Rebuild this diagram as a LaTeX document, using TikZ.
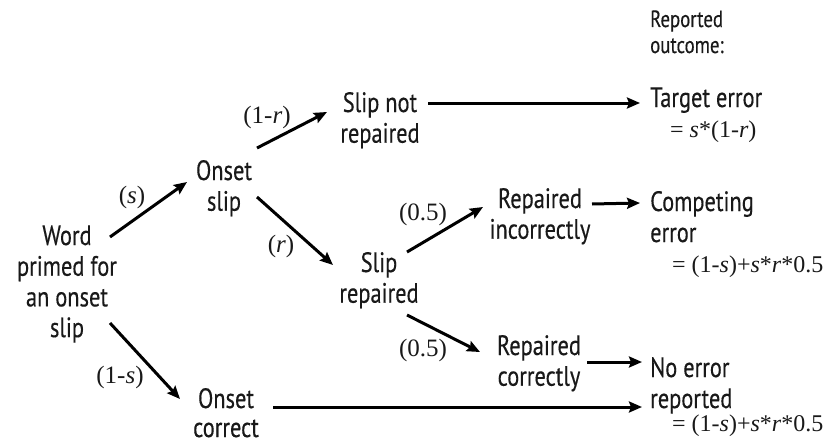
\documentclass[tikz,border=0pt]{standalone}
\usepackage{fontspec}
\setmainfont{PT Sans}[FakeStretch=0.8,FakeBold=0.35]
\newfontfamily\serifface{Liberation Serif}
\usetikzlibrary{arrows.meta}
\newcommand\stacklines[2][c]{\begin{tabular}[t]{@{}#1@{}}#2\end{tabular}}
\newcommand\vv[1]{\textit{#1}}
\begin{document}
\begin{tikzpicture}[x=1pt,y=-1pt,
  inkcol/.style={text=black!90},
  state/.style={inner sep=0pt,anchor=base,inkcol,font=\fontsize{28}{30.7}\selectfont},
  outcome/.style={inner sep=0pt,anchor=base west,inkcol,font=\fontsize{28}{31}\selectfont},
  header/.style={inner sep=0pt,anchor=base west,inkcol,font=\fontsize{23.5}{26}\selectfont},
  formula/.style={inner sep=0pt,anchor=base west,inkcol,font=\serifface\fontsize{24}{28}\selectfont},
  prob/.style={inner sep=0pt,anchor=center,inkcol,font=\serifface\fontsize{25}{28}\selectfont},
  arr/.style={line width=3pt,-{Stealth[length=13pt,width=11pt,inset=2pt]}}]
\useasboundingbox (0,0) rectangle (830,447);

% states
\node[state] (word) at (67,245) {\stacklines{Word\\primed for\\an onset\\slip}};
\node[state] (ons)  at (224,180) {\stacklines{Onset\\slip}};
\node[state,font=\fontsize{28}{29}\selectfont] (onc) at (226,408) {\stacklines{Onset\\correct}};
\node[state] (snr)  at (380,112) {\stacklines{Slip not\\repaired}};
\node[state] (sr)   at (379,272) {\stacklines{Slip\\repaired}};
\node[state] (ri)   at (540,208) {\stacklines{Repaired\\incorrectly}};
\node[state] (rc)   at (539,355) {\stacklines{Repaired\\correctly}};

% outcomes
\node[header]  (hdr) at (650,27)  {\stacklines[l]{Reported\\outcome:}};
\node[outcome] (te)  at (650,107) {\stacklines[l]{Target error}};
\node[formula] (tef) at (670,137) {= \vv{s}*(1-\vv{r})};
\node[outcome] (ce)  at (650,211) {\stacklines[l]{Competing\\error}};
\node[formula] (cef) at (672,272) {=\ (1-\vv{s})+\vv{s}*\vv{r}*0.5};
\node[outcome] (ne)  at (650,377) {\stacklines[l]{No error\\reported}};
\node[formula] (nef) at (672,431) {=\ (1-\vv{s})+\vv{s}*\vv{r}*0.5};

% probabilities
\node[prob] (ps)   at (132,197) {(\vv{s})};
\node[prob] (p1s)  at (120,377) {(1-\vv{s})};
\node[prob] (p1r)  at (267,117) {(1-\vv{r})};
\node[prob] (pr)   at (281,246) {(\vv{r})};
\node[prob] (ph1)  at (423,214) {(0.5)};
\node[prob] (ph2)  at (423,350) {(0.5)};

% connectors
\draw[arr] ([shift={(43,-8)}]word.base) -- ([shift={(-37,2)}]ons.base);
\draw[arr] ([shift={(43,78)}]word.base) -- ([shift={(-46,-9)}]onc.base);
\draw[arr] ([shift={(33,-32)}]ons.base) -- ([shift={(-53,0)}]snr.base);
\draw[arr] ([shift={(33,17)}]ons.base) -- ([shift={(-46,-7)}]sr.base);
\draw[arr] ([shift={(28,-20)}]sr.base) -- ([shift={(-57,-1)}]ri.base);
\draw[arr] ([shift={(28,43)}]sr.base) -- ([shift={(-59,-3)}]rc.base);
\draw[arr] ([shift={(48,-9)}]snr.base) -- ([shift={(-10,-4)}]te.base west);
\draw[arr] ([shift={(52,-4)}]ri.base) -- ([shift={(-10,-8)}]ce.base west);
\draw[arr] ([shift={(48,7)}]rc.base) -- ([shift={(-8,-15)}]ne.base west);
\draw[arr] ([shift={(47,-1)}]onc.base) -- ([shift={(-8,30)}]ne.base west);
\end{tikzpicture}
\end{document}
